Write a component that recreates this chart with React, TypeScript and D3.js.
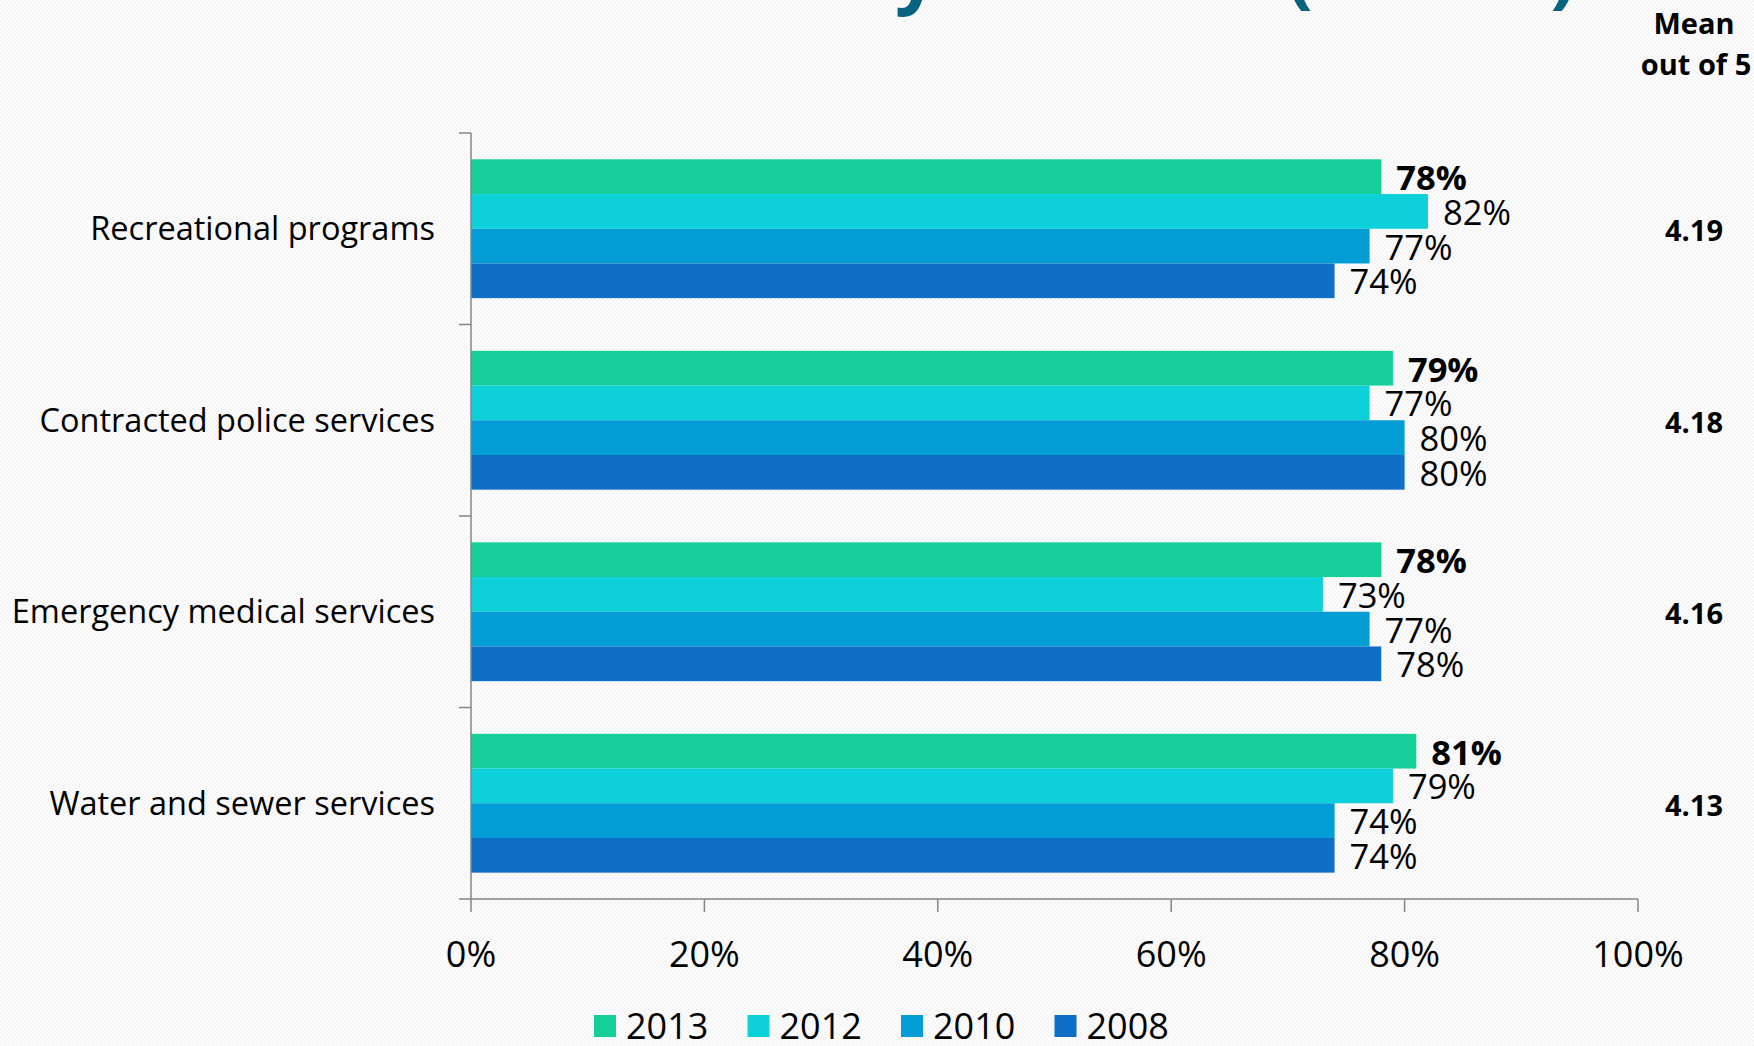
import React, { useEffect, useRef } from "react";
import * as d3 from "d3";

// chart data
const categories = [
  "Recreational programs",
  "Contracted police services",
  "Emergency medical services",
  "Water and sewer services",
];
const years = ["2013", "2012", "2010", "2008"];
const values2013 = [78, 79, 78, 81];
const values2012 = [82, 77, 73, 79];
const values2010 = [77, 80, 77, 74];
const values2008 = [74, 80, 78, 74];
const means = ["4.19", "4.18", "4.16", "4.13"];
const xTicks = [0, 20, 40, 60, 80, 100];
const colors = ["#14CF9A", "#0DD0D8", "#029DD5", "#0F6FC6"];

const seriesValues = [values2013, values2012, values2010, values2008];

const FONT = "'Open Sans', 'Noto Sans', sans-serif";

const App = () => {
  const svgRef = useRef<SVGSVGElement>(null);

  useEffect(() => {
    const width = 1754;
    const height = 1046;
    const left = 471;
    const right = 1638;
    const top = 133;
    const bottom = 899;

    const svg = d3.select(svgRef.current).attr("width", width).attr("height", height);
    svg.selectAll("*").remove();

    // faint dotted slide background
    const pat = svg
      .append("defs")
      .append("pattern")
      .attr("id", "bgdots")
      .attr("width", 4)
      .attr("height", 4)
      .attr("patternUnits", "userSpaceOnUse");
    pat.append("rect").attr("width", 4).attr("height", 4).attr("fill", "#fcfcfc");
    pat.append("rect").attr("x", 0).attr("y", 0).attr("width", 2).attr("height", 2).attr("fill", "#f5f5f5");
    pat.append("rect").attr("x", 2).attr("y", 2).attr("width", 2).attr("height", 2).attr("fill", "#f5f5f5");
    svg.append("rect").attr("width", width).attr("height", height).attr("fill", "url(#bgdots)");

    // title, mostly cut off at the top edge
    svg
      .append("text")
      .attr("x", 1576)
      .attr("y", -1)
      .attr("text-anchor", "end")
      .style("font-family", FONT)
      .style("font-size", "76px")
      .style("font-weight", 700)
      .style("fill", "#08637E")
      .text("Satisfaction with Community Services (cont'd)");

    const x = d3.scaleLinear().domain([0, 100]).range([left, right]);
    const y = d3
      .scaleBand()
      .domain(categories)
      .range([top, bottom])
      .paddingInner(0.275)
      .paddingOuter(0.1375);
    const yInner = d3.scaleBand().domain(years).range([0, y.bandwidth()]);
    const color = d3.scaleOrdinal<string, string>().domain(years).range(colors);

    const rows = categories.map((c, ci) => ({
      category: c,
      bars: years.map((yr, si) => ({ year: yr, value: seriesValues[si][ci] })),
    }));

    const groups = svg
      .selectAll("g.grp")
      .data(rows)
      .join("g")
      .attr("class", "grp")
      .attr("transform", (d) => `translate(0, ${y(d.category)})`);

    groups
      .selectAll("rect")
      .data((d) => d.bars)
      .join("rect")
      .attr("x", x(0))
      .attr("y", (d) => yInner(d.year)!)
      .attr("width", (d) => x(d.value) - x(0))
      .attr("height", yInner.bandwidth())
      .attr("fill", (d) => color(d.year));

    groups
      .selectAll("text.val")
      .data((d) => d.bars)
      .join("text")
      .attr("class", "val")
      .attr("x", (d) => x(d.value) + 15)
      .attr("y", (d) => yInner(d.year)! + yInner.bandwidth() / 2 + 1)
      .attr("dy", "0.36em")
      .style("font-family", FONT)
      .style("font-size", "34.5px")
      .style("font-weight", (d) => (d.year === "2013" ? 700 : 400))
      .style("fill", "#000")
      .text((d) => `${d.value}%`);

    // category labels
    svg
      .selectAll("text.cat")
      .data(categories)
      .join("text")
      .attr("class", "cat")
      .attr("x", 435)
      .attr("y", (d) => y(d)! + y.bandwidth() / 2)
      .attr("dy", "0.36em")
      .attr("text-anchor", "end")
      .style("font-family", FONT)
      .style("font-size", "32.5px")
      .style("fill", "#000")
      .text((d) => d);

    // mean column
    svg
      .selectAll("text.mean")
      .data(means)
      .join("text")
      .attr("class", "mean")
      .attr("x", 1694)
      .attr("y", (d, i) => y(categories[i])! + y.bandwidth() / 2 + 2)
      .attr("dy", "0.36em")
      .attr("text-anchor", "middle")
      .style("font-family", FONT)
      .style("font-size", "29px")
      .style("font-weight", 700)
      .text((d) => d);

    svg
      .append("text")
      .attr("x", 1694)
      .attr("y", 24)
      .attr("dy", "0.36em")
      .attr("text-anchor", "middle")
      .style("font-family", FONT)
      .style("font-size", "29px")
      .style("font-weight", 700)
      .text("Mean");
    svg
      .append("text")
      .attr("x", 1696)
      .attr("y", 65)
      .attr("dy", "0.36em")
      .attr("text-anchor", "middle")
      .style("font-family", FONT)
      .style("font-size", "29px")
      .style("font-weight", 700)
      .text("out of 5");

    // axes
    const axisColor = "#868686";
    const boundaries = categories.map((c) => y(c)! - (y.step() * y.paddingInner()) / 2);
    boundaries.push(bottom);
    svg
      .append("line")
      .attr("x1", left)
      .attr("x2", left)
      .attr("y1", top)
      .attr("y2", bottom)
      .attr("stroke", axisColor)
      .attr("stroke-width", 1.5);
    svg
      .selectAll("line.ytick")
      .data(boundaries)
      .join("line")
      .attr("class", "ytick")
      .attr("x1", left - 12)
      .attr("x2", left)
      .attr("y1", (d) => d)
      .attr("y2", (d) => d)
      .attr("stroke", axisColor)
      .attr("stroke-width", 1.5);

    svg
      .append("line")
      .attr("x1", left)
      .attr("x2", right)
      .attr("y1", bottom)
      .attr("y2", bottom)
      .attr("stroke", axisColor)
      .attr("stroke-width", 1.5);
    svg
      .selectAll("line.xtick")
      .data(xTicks)
      .join("line")
      .attr("class", "xtick")
      .attr("x1", (d) => x(d))
      .attr("x2", (d) => x(d))
      .attr("y1", bottom)
      .attr("y2", bottom + 13)
      .attr("stroke", axisColor)
      .attr("stroke-width", 1.5);
    svg
      .selectAll("text.xlab")
      .data(xTicks)
      .join("text")
      .attr("class", "xlab")
      .attr("x", (d) => x(d))
      .attr("y", 954)
      .attr("dy", "0.36em")
      .attr("text-anchor", "middle")
      .style("font-family", FONT)
      .style("font-size", "36px")
      .text((d) => `${d}%`);

    // legend
    const legend = svg
      .selectAll("g.leg")
      .data(years)
      .join("g")
      .attr("class", "leg")
      .attr("transform", (d, i) => `translate(${594 + i * 153.5}, 1026)`);
    legend
      .append("rect")
      .attr("x", 0)
      .attr("y", -11)
      .attr("width", 22)
      .attr("height", 22)
      .attr("fill", (d) => color(d));
    legend
      .append("text")
      .attr("x", 32)
      .attr("y", 0)
      .attr("dy", "0.36em")
      .style("font-family", FONT)
      .style("font-size", "36px")
      .text((d) => d);
  }, []);

  return <svg ref={svgRef} style={{ position: "absolute", left: 0, top: 0 }}></svg>;
};

export default App;
